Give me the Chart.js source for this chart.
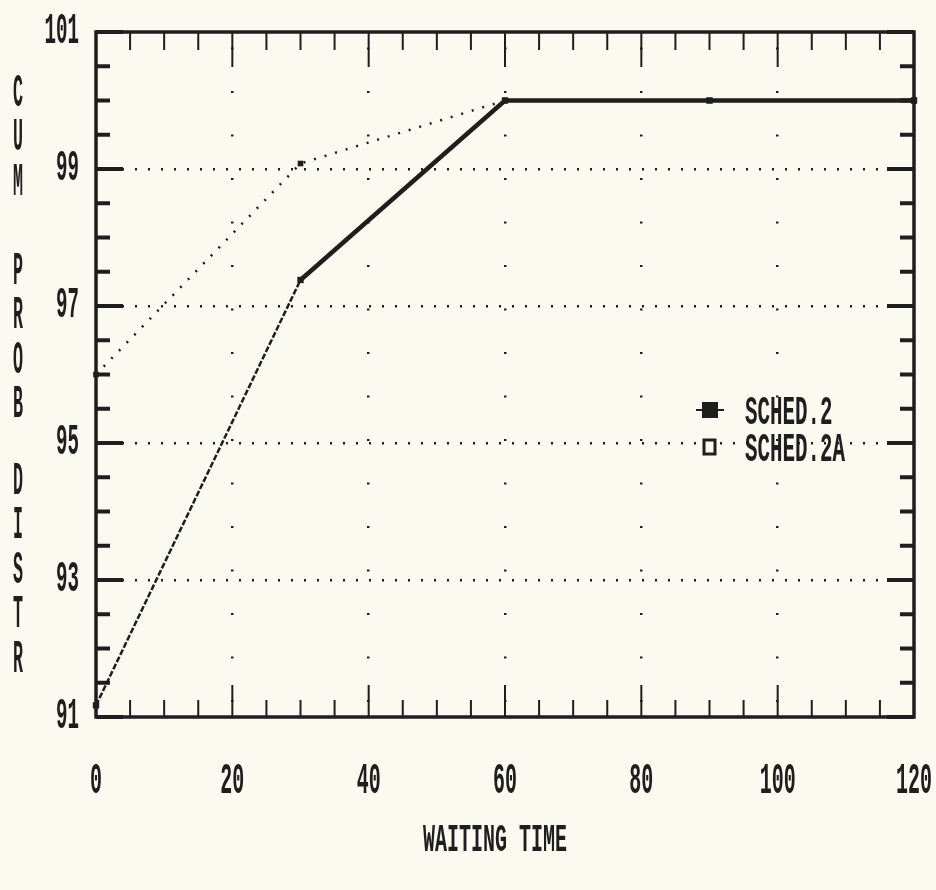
<!DOCTYPE html>
<html>
<head>
<meta charset="utf-8">
<title>Cum Prob Distr vs Waiting Time</title>
<script src="https://cdn.jsdelivr.net/npm/chart.js@4.4.1/dist/chart.umd.min.js"></script>
<style>
    html, body { margin: 0; padding: 0; background: #fafaf0; }
    #wrap { position: relative; width: 936px; height: 890px; }
</style>
</head>
<body>
<div id="wrap"><canvas id="chart" width="936" height="890"></canvas></div>
<script>
// ============================================
// Data
// ============================================
var waitTimes   = [0, 30, 60, 90, 120];
var sched2      = [91.17, 97.38, 100.0, 100.0, 100.0];
var sched2A     = [96.0, 99.08, 100.0, 100.0, 100.0];
var seriesNames = ['SCHED.2', 'SCHED.2A'];

var xTickValues = [0, 20, 40, 60, 80, 100, 120];
var yTickValues = [91, 93, 95, 97, 99, 101];
var xTitle = 'WAITING TIME';
var yTitleWords = ['CUM', 'PROB', 'DISTR'];

var INK = '#1e1e1e';
var PAPER = '#fafaf0';
var FONT = '"Liberation Mono", "DejaVu Sans Mono", monospace';

// ============================================
// Narrow plotter-style text helper
// ============================================
var capRatio = null;
function capHeightRatio(ctx) {
    if (capRatio) return capRatio;
    ctx.save();
    ctx.font = 'bold 100px ' + FONT;
    var m = ctx.measureText('0');
    capRatio = (m.actualBoundingBoxAscent || 66) / 100;
    ctx.restore();
    return capRatio;
}

// draws text whose characters are capH tall and charW wide, centred on y
function plotText(ctx, text, x, y, capH, charW, align) {
    var size = capH / capHeightRatio(ctx);
    ctx.save();
    ctx.font = 'bold ' + size + 'px ' + FONT;
    var natural = ctx.measureText('0').width;
    var sx = charW / natural;
    var w = text.length * charW;
    var left = align === 'right' ? x - w : (align === 'center' ? x - w / 2 : x);
    ctx.translate(left, y + capH / 2);
    ctx.scale(sx, 1);
    ctx.fillStyle = INK;
    ctx.textAlign = 'left';
    ctx.textBaseline = 'alphabetic';
    ctx.fillText(text, 0, 0);
    ctx.restore();
}

// ============================================
// Plugins
// ============================================
var paperPlugin = {
    id: 'paper',
    beforeDraw: function(chart) {
        var ctx = chart.ctx;
        ctx.save();
        ctx.fillStyle = PAPER;
        ctx.fillRect(0, 0, chart.width, chart.height);
        ctx.restore();
    }
};

var framePlugin = {
    id: 'frame',
    afterDraw: function(chart) {
        var ctx = chart.ctx;
        var a = chart.chartArea;
        var x = chart.scales.x;
        var y = chart.scales.y;

        ctx.save();
        ctx.strokeStyle = INK;

        // x ticks, inside on top and bottom
        ctx.lineWidth = 2;
        for (var v = 0; v <= 120; v += 5) {
            var px = x.getPixelForValue(v);
            var major = v % 20 === 0;
            var lenTop = major ? 35 : 18;
            var lenBot = major ? 32 : 17;
            ctx.beginPath();
            ctx.moveTo(px, a.top);
            ctx.lineTo(px, a.top + lenTop);
            ctx.moveTo(px, a.bottom);
            ctx.lineTo(px, a.bottom - lenBot);
            ctx.stroke();
        }

        // y ticks, inside on left and right
        ctx.lineWidth = 4;
        for (var k = 0; k <= 20; k++) {
            var val = 91 + k * 0.5;
            var py = y.getPixelForValue(val);
            var len = (k % 4 === 0) ? 27 : 14;
            ctx.beginPath();
            ctx.moveTo(a.left, py);
            ctx.lineTo(a.left + len, py);
            ctx.moveTo(a.right, py);
            ctx.lineTo(a.right - len, py);
            ctx.stroke();
        }

        // frame
        ctx.lineWidth = 3.5;
        ctx.strokeRect(a.left, a.top, a.right - a.left, a.bottom - a.top);

        // tick labels
        xTickValues.forEach(function(t) {
            plotText(ctx, String(t), x.getPixelForValue(t), 778, 30, 12, 'center');
        });
        yTickValues.forEach(function(t) {
            plotText(ctx, String(t), 79, y.getPixelForValue(t) - 4, 30, 11.5, 'right');
        });

        // axis titles
        plotText(ctx, xTitle, 495, 838, 26, 12, 'center');
        var starts = [90, 268, 478];
        yTitleWords.forEach(function(word, w) {
            for (var i = 0; i < word.length; i++) {
                plotText(ctx, word[i], 18, starts[w] + i * 44.5, 31, 10, 'center');
            }
        });

        // legend inside the plot
        var lx = 710;
        var rows = [410, 447];
        ctx.fillStyle = INK;
        ctx.lineWidth = 2;
        ctx.beginPath();
        ctx.moveTo(lx - 14, rows[0]);
        ctx.lineTo(lx + 14, rows[0]);
        ctx.stroke();
        ctx.fillRect(lx - 8, rows[0] - 8, 16, 16);
        ctx.lineWidth = 3;
        ctx.fillStyle = PAPER;
        ctx.fillRect(lx - 8, rows[1] - 9, 16, 18);
        ctx.strokeRect(lx - 6, rows[1] - 7, 11, 14);
        chart.data.datasets.forEach(function(ds, i) {
            plotText(ctx, ds.label, 745, rows[i], 27, 12.5, 'left');
        });

        ctx.restore();
    }
};

// ============================================
// Chart
// ============================================
function toPoints(xs, ys) {
    return xs.map(function(v, i) { return { x: v, y: ys[i] }; });
}

function isEdge(scaleCtx, lo, hi) {
    var v = scaleCtx.tick ? scaleCtx.tick.value : null;
    return v === lo || v === hi;
}

new Chart(document.getElementById('chart'), {
    type: 'line',
    data: {
        datasets: [
            {
                label: seriesNames[0],
                data: toPoints(waitTimes, sched2),
                borderColor: INK,
                backgroundColor: INK,
                borderWidth: 4,
                pointStyle: 'rect',
                pointRadius: 4.5,
                pointBackgroundColor: INK,
                pointBorderWidth: 0,
                tension: 0,
                clip: false,
                segment: {
                    borderWidth: function(c) { return c.p0.parsed.x < 30 ? 2.5 : 4.5; },
                    borderDash: function(c) { return c.p0.parsed.x < 30 ? [6, 2] : undefined; }
                }
            },
            {
                label: seriesNames[1],
                data: toPoints(waitTimes, sched2A),
                borderColor: INK,
                backgroundColor: INK,
                borderWidth: 2.5,
                borderDash: [2, 9],
                pointStyle: 'rect',
                pointRadius: 4,
                pointBackgroundColor: INK,
                pointBorderWidth: 0,
                tension: 0,
                clip: false
            }
        ]
    },
    options: {
        responsive: false,
        animation: false,
        layout: {
            padding: { left: 96, right: 22, top: 32, bottom: 173 }
        },
        plugins: {
            legend: { display: false },
            tooltip: { enabled: false }
        },
        scales: {
            x: {
                type: 'linear',
                min: 0,
                max: 120,
                afterBuildTicks: function(scale) {
                    scale.ticks = xTickValues.map(function(v) { return { value: v }; });
                },
                ticks: { display: false },
                border: { display: false, dash: [2, 41.5], dashOffset: 28 },
                grid: {
                    drawTicks: false,
                    lineWidth: 2.5,
                    color: function(c) { return isEdge(c, 0, 120) ? 'rgba(0,0,0,0)' : INK; }
                }
            },
            y: {
                type: 'linear',
                min: 91,
                max: 101,
                afterBuildTicks: function(scale) {
                    scale.ticks = yTickValues.map(function(v) { return { value: v }; });
                },
                ticks: { display: false },
                border: { display: false, dash: [2, 11] },
                grid: {
                    drawTicks: false,
                    lineWidth: 2.5,
                    color: function(c) { return isEdge(c, 91, 101) ? 'rgba(0,0,0,0)' : INK; }
                }
            }
        }
    },
    plugins: [paperPlugin, framePlugin]
});
</script>
</body>
</html>
